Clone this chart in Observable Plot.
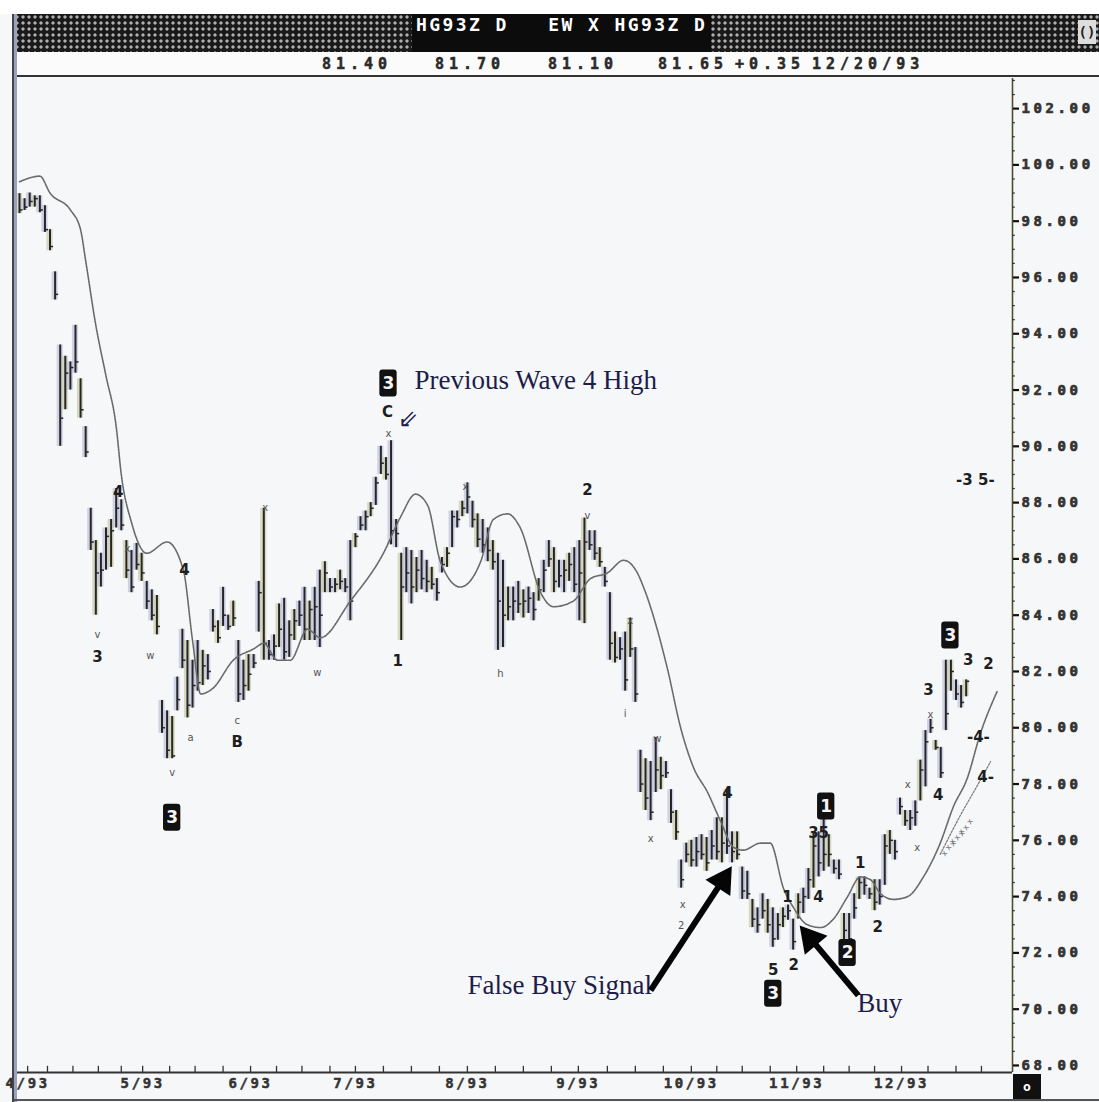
<!DOCTYPE html>
<html><head><meta charset="utf-8">
<script src="https://cdn.jsdelivr.net/npm/d3@7"></script>
<script src="https://cdn.jsdelivr.net/npm/@observablehq/plot@0.6"></script>
<style>
body{margin:0;background:#f6f7f9;}
#wrap{position:relative;width:1099px;height:1102px;overflow:hidden;background:#f6f7f9;}
#top{position:absolute;left:0;top:0;width:1099px;height:14px;background:#fff;}
#row1{position:absolute;left:14px;top:14px;width:1085px;height:38px;background-color:#1a1a1a;background-image:radial-gradient(circle,#b0b0b0 1.3px,transparent 1.9px);background-size:6px 6px;}
#title{position:absolute;left:398px;top:0;height:38px;line-height:38px;padding:0 4px;background:#0c0c0c;color:#fff;font:bold 18px "DejaVu Sans Mono";letter-spacing:2.4px;white-space:pre;}
#corner{position:absolute;left:1064px;top:6px;width:18px;height:24px;background:#ddd;color:#222;font:bold 14px "DejaVu Sans Mono";text-align:center;line-height:24px;}
#row2{position:absolute;left:14px;top:52px;width:1085px;height:23px;background:#fbfbfb;border-bottom:2px solid #333;}
.v{position:absolute;top:3px;font:bold 15px "DejaVu Sans Mono";letter-spacing:5px;color:#2a2a2a;white-space:pre;-webkit-text-stroke:0.5px #2a2a2a;}
#chart{position:absolute;left:0;top:78px;}
#lframe{position:absolute;left:12px;top:14px;width:2px;height:1088px;background:#444;border-right:3px solid #9aa0c0;}
#obox{position:absolute;left:1013px;top:1074px;width:28px;height:26px;background:#111;color:#fff;font:bold 13px "DejaVu Sans Mono";text-align:center;line-height:26px;}
#bline{position:absolute;left:14px;top:1099px;width:1085px;height:2px;background:#555;}
</style></head>
<body>
<div id="wrap">
  <div id="top"></div>
  <div id="row1"><div id="title"></div><div id="corner">()</div></div>
  <div id="row2"></div>
  <div id="chart"></div>
  <div id="lframe"></div>
  <div id="obox">o</div>
  <div id="bline"></div>
</div>
<script>
// ---- header texts ----
const titleText = "HG93Z D   EW X HG93Z D";
const quoteVals = ["81.40", "81.70", "81.10", "81.65", "+0.35", "12/20/93"];
const quoteLeft = [308, 421, 534, 644, 721, 798];

// ---- daily bars (price) ----
const hi = [
98.98,98.8,99.0,98.9,98.9,98.55,97.7,96.2,93.6,93.2,
93.0,94.3,92.4,90.7,87.8,86.65,86.2,87.1,87.4,88.5,
88.1,86.65,86.3,86.55,86.2,85.2,84.9,84.7,80.97,80.6,
80.4,81.8,83.5,83.1,82.4,83.1,82.75,82.6,84.2,83.8,
84.99,84.0,84.5,83.1,82.4,82.6,82.6,85.2,87.8,83.1,
83.3,84.4,84.6,83.8,84.2,84.5,84.99,84.5,84.99,85.6,
85.9,85.3,85.3,85.6,85.3,86.65,86.9,87.5,87.7,88.0,
88.9,90.0,89.6,90.2,87.4,86.2,86.4,86.3,86.05,86.3,
85.95,85.7,85.3,86.05,86.4,87.7,87.7,88.05,88.7,88.05,
87.6,87.4,87.1,86.65,86.2,85.95,85.0,85.0,85.2,84.9,
85.0,84.8,85.3,85.95,86.65,86.4,85.95,85.95,86.2,86.4,
86.65,87.45,87.0,87.0,86.4,85.7,84.8,83.4,83.2,83.4,
83.9,82.85,79.2,78.9,78.8,79.65,78.95,78.8,77.8,77.06,
75.3,75.9,76.0,76.1,76.2,76.1,76.35,76.8,76.8,77.8,
76.3,76.3,75.05,74.9,73.9,73.6,74.1,73.9,73.6,73.4,
73.6,73.7,73.2,74.1,74.3,75.0,76.3,76.3,77.4,76.2,
75.3,75.3,73.4,73.4,74.1,74.7,74.7,74.3,74.6,74.6,
76.2,76.35,76.0,77.5,77.06,77.06,77.4,78.85,79.9,80.3,
79.55,79.3,82.4,82.4,81.7,81.5,81.7];
const lo = [
98.27,98.38,98.5,98.5,98.3,97.6,96.95,95.2,90.0,91.3,
92.0,92.6,91.0,89.6,86.3,84.0,85.0,85.6,85.7,87.1,
87.0,85.3,84.8,85.6,85.2,84.2,83.8,83.3,79.8,78.9,
78.9,80.6,82.1,80.35,80.7,81.3,81.5,81.7,83.4,83.0,
83.6,83.46,83.6,80.9,80.97,81.3,82.1,83.4,82.4,82.4,
82.4,82.85,82.4,82.5,83.1,83.6,83.1,83.1,83.1,82.85,
84.8,84.8,84.8,84.9,84.8,83.8,86.4,87.0,87.0,87.5,
87.9,89.0,88.8,86.5,86.4,83.1,84.8,84.4,84.8,84.9,
84.8,84.9,84.5,85.5,85.7,86.4,87.1,87.5,87.6,87.1,
86.4,86.2,85.9,85.6,82.75,82.85,83.8,83.8,84.06,83.9,
84.06,83.8,84.5,84.8,85.7,84.8,84.97,84.8,85.2,84.8,
83.8,83.7,86.3,85.95,85.7,85.0,82.4,82.3,82.4,81.3,
82.5,80.9,77.7,77.06,76.7,77.7,77.8,78.2,76.6,76.0,
74.3,75.2,75.05,75.05,75.3,74.9,75.3,75.3,75.2,75.5,
75.2,75.3,73.9,73.9,72.9,72.7,73.2,72.7,72.2,72.45,
72.9,73.16,72.1,73.2,73.4,73.9,74.3,74.7,74.9,75.05,
74.8,74.6,72.45,71.7,73.2,73.9,74.05,73.9,73.5,73.7,
74.4,75.5,75.3,76.9,76.5,76.35,76.5,77.4,77.9,79.8,
79.2,78.2,79.9,81.3,80.97,80.7,81.1];
const cl = [
98.4,98.5,98.7,98.8,98.4,97.7,97.1,95.4,91.0,92.6,
92.8,93.0,91.3,89.8,86.6,85.5,85.6,86.8,87.0,87.8,
87.2,85.6,85.0,85.8,85.5,84.5,84.0,83.6,80.0,79.2,
79.0,81.0,82.4,80.8,81.5,81.6,82.2,82.0,83.6,83.2,
84.0,83.6,83.9,81.2,81.5,81.9,82.3,84.8,83.0,82.6,
82.9,83.5,82.7,83.3,83.8,84.0,83.5,84.2,84.3,84.0,
85.5,85.0,85.1,85.2,85.0,84.5,86.8,87.2,87.5,87.8,
88.7,89.4,89.0,87.0,86.9,85.0,85.5,85.0,85.6,85.3,
85.2,85.1,84.8,85.8,86.2,87.5,87.4,87.8,88.2,87.4,
86.7,86.5,86.3,85.9,84.5,84.0,84.3,84.5,84.4,84.5,
84.6,84.2,84.9,85.6,86.0,85.2,85.4,85.6,85.8,85.1,
85.5,86.6,86.5,86.2,85.9,85.2,83.0,82.5,82.8,81.7,
82.8,81.2,78.0,77.5,77.0,78.5,78.3,78.4,77.0,76.3,
74.6,75.5,75.3,75.6,75.5,75.2,75.8,75.6,75.9,75.8,
75.6,75.5,74.2,74.1,73.2,73.0,73.5,73.0,72.5,73.0,
73.3,73.5,72.4,73.8,74.0,74.6,75.8,75.2,75.5,75.5,
75.0,74.8,72.8,72.5,73.6,74.5,74.4,74.1,73.8,74.0,
75.8,76.0,75.6,77.2,76.7,76.8,77.0,78.5,79.5,80.0,
79.3,78.4,80.5,82.0,81.2,80.9,81.65];

// ---- moving average line ----
const maI = [0,4,6,10,12,13,15,17,19,20,22,25,29,32.2,34,35.6,38,42,46,48,50.7,53.2,56.6,59.1,65,71.5,74.9,77.8,80.2,82.7,86.6,90.6,93.1,95.9,98.4,102.4,104.9,108.8,112.2,115.5,118.7,121.4,122.6,127.3,129.9,132.4,135.2,137.7,140.3,142.2,145.6,147.5,150.1,152.1,154.8,157.4,159.9,162.7,165.2,167.2,169.2,171.7,174.5,177.6,180.9,183.5,186.2,188.8,192.1];
const maV = [99.4,99.6,99.0,98.4,97.7,96.6,94.3,92.5,90.7,89.0,87.3,86.2,86.6,85.6,83.1,81.2,81.4,82.4,82.8,83.0,82.4,82.4,83.5,83.2,84.5,86.2,87.5,88.3,87.9,85.9,85.0,85.9,87.4,87.6,87.1,84.8,84.3,84.5,85.3,85.5,85.95,85.5,85.0,82.1,80.0,78.6,77.7,76.7,75.75,75.65,75.9,75.9,74.3,73.6,73.0,72.9,73.2,74.0,74.7,74.6,74.1,73.9,74.0,74.7,75.9,77.2,78.2,79.8,81.3];
// second (channel) line at the right
const ch2I = [180.9,184.9,188.2,190.8];
const ch2V = [75.5,76.9,77.95,78.8];
// hatch marks below the channel
const hatchI = [182.5,184.2,185.9];
const hatchP = [75.75,76.1,76.45];

// ---- axes ----
const yTicks = [68,70,72,74,76,78,80,82,84,86,88,90,92,94,96,98,100,102];
const monthIdx = [1.6,24.2,45.4,66,88,109.8,132,152.7,173.3];
const monthLab = ["4/93","5/93","6/93","7/93","8/93","9/93","10/93","11/93","12/93"];
const weekIdx = [1.6,5.5,10.5,15.5,20,24.2,29.5,34.5,40,45.4,50.5,55.5,61,66,71.5,77,82.5,88,93.5,99,104.5,109.8,115.5,121,126.5,132,137,142,147.5,152.7,158,163,168,173.3,178.5,184,189];

// ---- wave labels ----
const labT = ["3","v","4","x","w","4","v","3","a","c","B","x","w","3","C","x","1","x","h","2","v","x","i","w","x","x","2","4","1","2","5","3","1","35","4","2","1","2","x","x","3","x","4","3","3","2","-4-","4-","-3 5-"];
const labI = [15.3,15.3,19.4,21.2,25.7,32.4,30,30,33.6,42.8,42.8,48.3,58.5,72.5,72.3,72.5,74.3,87.6,94.5,111.6,111.6,120,119,125.3,124,130.3,130,139.1,150.9,152.1,148.1,148.1,158.5,157,157,162.7,165.2,168.6,174.5,176.4,178.6,179,180.5,182.9,186.4,190.4,188.4,189.8,187.8];
const labP = [82.5,83.3,88.36,86.37,82.57,85.6,78.4,76.8,79.66,80.26,79.5,87.8,81.96,92.23,91.2,90.45,82.35,88.57,81.93,88.43,87.54,83.8,80.5,79.6,76.07,73.7,72.98,77.67,73.97,71.56,71.4,70.55,77.2,76.25,73.97,72.0,75.2,72.9,77.98,75.75,81.33,80.47,77.6,83.28,82.39,82.25,79.66,78.24,88.8];
const labK = ["b","s","b","s","s","b","s","box","s","s","b","s","s","box","b","s","b","s","s","b","s","s","s","s","s","s","s","b","b","b","b","box","box","b","b","box","b","b","s","s","b","s","b","box","b","b","b","b","b"];

// ---- annotations ----
const noteT = ["Previous Wave 4 High","False Buy Signal","Buy"];
const noteI = [77.6,88.0,164.6];
const noteP = [92.34,70.85,70.2];
const arrX1 = [124.0,164.8], arrY1 = [70.67,70.49], arrX2 = [139.7,154.4], arrY2 = [75.0,72.73];
const arrRot = [33, -40];
const hollowArrow = {t: "\u21D9", i: 76.4, p: 90.95};

// ---- build ----
const bars = hi.map((h, i) => ({i, hi: h, lo: lo[i], cl: cl[i]}));
const ma = maI.map((i, k) => ({i, v: maV[k]}));
const ch2 = ch2I.map((i, k) => ({i, v: ch2V[k]}));
const hatch = hatchI.map((i, k) => ({i, p: hatchP[k]}));
const labs = labT.map((t, k) => ({t, i: labI[k], p: labP[k], k: labK[k]}));
const notes = noteT.map((t, k) => ({t, i: noteI[k], p: noteP[k]}));
const arrows = arrX1.map((x1, k) => ({x1, y1: arrY1[k], x2: arrX2[k], y2: arrY2[k], rot: arrRot[k]}));
const heads = arrows.map(a => ({x: a.x2 - 0.1 * (a.x2 - a.x1), y: a.y2 - 0.1 * (a.y2 - a.y1), rot: a.rot}));
const monthMap = new Map(monthIdx.map((d, k) => [d, monthLab[k]]));
const minorY = d3.range(68, 103.01, 0.5).filter(v => !yTicks.includes(v));

const XD = [-0.98, 195.1], YD = [67.75, 103.07];

document.getElementById("title").textContent = titleText;
const row2 = document.getElementById("row2");
quoteVals.forEach((v, k) => {
  const s = document.createElement("span");
  s.className = "v"; s.style.left = quoteLeft[k] + "px"; s.textContent = v;
  row2.appendChild(s);
});

const mono = "DejaVu Sans Mono";
const chart = Plot.plot({
  width: 1099, height: 1024,
  marginLeft: 14, marginRight: 87, marginTop: 0, marginBottom: 30,
  x: {domain: XD, axis: null},
  y: {domain: YD, axis: null},
  style: {background: "transparent", overflow: "visible"},
  marks: [
    // bar shading
    Plot.rect(bars, {x1: d => d.i - 0.6, x2: d => d.i + 0.6, y1: "lo", y2: "hi", fill: (d) => d.i % 3 === 0 ? "#c9caa6" : "#bfc0dc", fillOpacity: 0.7}),
    Plot.ruleX(bars, {x: "i", y1: "lo", y2: "hi", stroke: "#262626", strokeWidth: 2}),
    Plot.link(bars, {x1: "i", x2: d => d.i + 0.6, y1: "cl", y2: "cl", stroke: "#262626", strokeWidth: 1.5}),
    // moving average
    Plot.line(ma, {x: "i", y: "v", stroke: "#6a6a6a", strokeWidth: 1.6, curve: "monotone-x", strokeDasharray: "2.2,0.9"}),
    Plot.line(ch2, {x: "i", y: "v", stroke: "#777", strokeWidth: 1.2, curve: "monotone-x", strokeDasharray: "2,1.5"}),
    Plot.text(hatch, {x: "i", y: "p", text: () => "x x x", rotate: -55, fill: "#666", fontSize: 8, fontFamily: "DejaVu Sans"}),
    // axes lines
    Plot.ruleX([XD[1]], {stroke: "#4d4f2a", strokeWidth: 1.6}),
    Plot.ruleY([YD[0]], {stroke: "#333", strokeWidth: 1.8}),
    Plot.ruleX(weekIdx, {y1: YD[0], y2: YD[0] + 0.22, stroke: "#333", strokeWidth: 1.3}),
    Plot.ruleY(minorY, {x1: XD[1], x2: XD[1] + 0.55, stroke: "#333", strokeWidth: 1.2}),
    Plot.axisY({anchor: "right", ticks: yTicks, tickSize: 6, tickPadding: 3, tickFormat: d => d.toFixed(2), fontSize: 14, fontFamily: mono, fontWeight: "bold", fill: "#333", stroke: "#111", strokeWidth: 2.2}),
    Plot.axisX({anchor: "bottom", ticks: monthIdx, tickSize: 0, tickPadding: 6, tickFormat: d => monthMap.get(d), fontSize: 14, fontFamily: mono, fontWeight: "bold", fill: "#333"}),
    // boxed labels
    Plot.rect(labs.filter(d => d.k === "box"), {x1: d => d.i - 1.7, x2: d => d.i + 1.7, y1: d => d.p - 0.48, y2: d => d.p + 0.48, fill: "#111", rx: 3}),
    Plot.text(labs.filter(d => d.k === "box"), {x: "i", y: "p", text: "t", fill: "#f4f4f4", fontSize: 17, fontWeight: "bold", fontFamily: "DejaVu Sans"}),
    Plot.text(labs.filter(d => d.k === "b"), {x: "i", y: "p", text: "t", fill: "#1e1e1e", fontSize: 15, fontWeight: "bold", fontFamily: "DejaVu Sans"}),
    Plot.text(labs.filter(d => d.k === "s"), {x: "i", y: "p", text: "t", fill: "#555", fontSize: 10, fontFamily: "DejaVu Sans"}),
    Plot.text([hollowArrow], {x: "i", y: "p", text: "t", fill: "#1d1d4f", fontSize: 24, fontFamily: "DejaVu Sans"}),
    // annotations
    Plot.text(notes, {x: "i", y: "p", text: "t", textAnchor: "start", fill: "#1d1d4a", fontSize: 27, fontFamily: "Liberation Serif"}),
    Plot.link(arrows, {x1: "x1", y1: "y1", x2: d => d.x2 - 0.12 * (d.x2 - d.x1), y2: d => d.y2 - 0.12 * (d.y2 - d.y1), stroke: "#050505", strokeWidth: 6}),
    Plot.dot(heads, {x: "x", y: "y", symbol: "triangle", r: 11, fill: "#050505", rotate: "rot"})
  ]
});
d3.select(chart).selectAll('g[aria-label="y-axis tick label"] text').attr("letter-spacing", 3.6).attr("stroke", "#333").attr("stroke-width", 0.7);
d3.select(chart).selectAll('g[aria-label="x-axis tick label"] text').attr("letter-spacing", 2.6).attr("stroke", "#333").attr("stroke-width", 0.5);
document.getElementById("chart").appendChild(chart);
</script>
</body></html>
